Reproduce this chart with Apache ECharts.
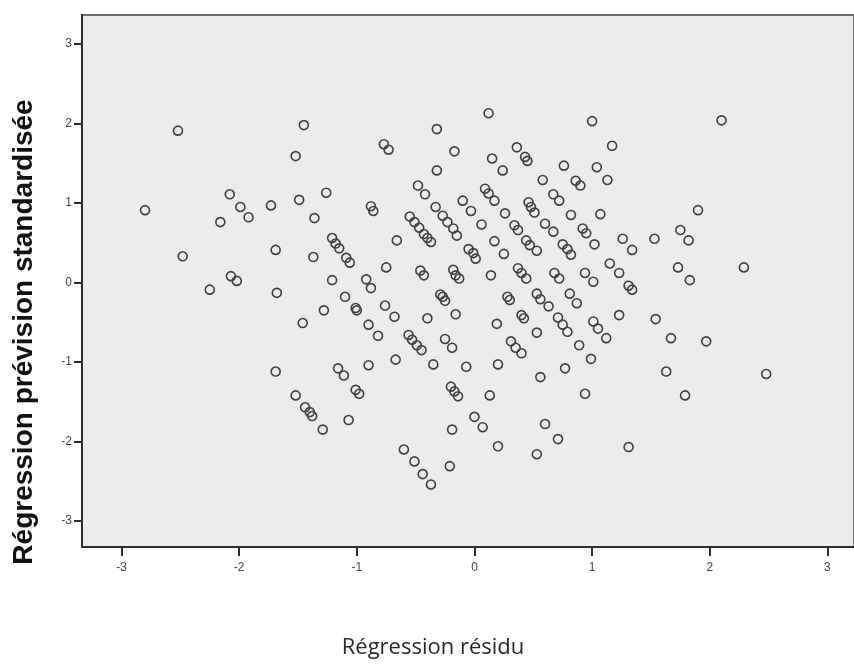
<!DOCTYPE html>
<html>
<head>
<meta charset="utf-8">
<script src="https://cdn.jsdelivr.net/npm/echarts@6/dist/echarts.min.js"></script>
<style>html,body{margin:0;padding:0;background:#fff}#c{width:854px;height:664px}</style>
</head>
<body>
<div id="c"></div>
<script>
// Régression résidu (x)
var residu = [
 -2.52,-1.45,-1.52,-2.80,-2.08,-1.99,-1.92,-2.16,-1.73,-1.49,
 -1.26,-1.36,-2.48,-1.69,-1.37,-2.07,-2.02,-1.21,-2.25,-1.68,
 -1.28,-1.46,-1.69,-1.52,-1.44,-1.40,-1.38,-1.29,-1.16,0.12,
 1.00,-0.32,-0.77,-0.73,-0.17,0.36,0.43,0.45,0.15,0.24,
 -0.32,0.76,1.04,0.58,0.86,0.90,-0.48,-0.42,0.09,0.12,
 0.17,0.67,0.72,-0.10,-0.03,-0.88,-0.86,0.46,0.48,0.51,
 0.82,1.07,-0.33,-0.27,-0.23,-0.18,-0.15,0.26,-0.55,-0.51,
 -0.47,-0.43,-0.40,-0.37,0.06,0.34,0.37,0.60,0.67,0.92,
 0.95,1.02,0.44,0.47,0.53,0.75,0.79,0.82,0.17,0.25,
 -0.05,-0.01,0.01,-0.66,-1.21,-1.18,-1.15,-1.09,-1.06,-0.75,
 -0.46,-0.43,-0.18,-0.16,-0.13,0.14,0.37,0.40,0.44,0.68,
 0.72,0.94,1.01,-0.92,-0.88,-1.10,-1.01,-1.00,-0.76,-0.68,
 -0.29,-0.27,-0.25,-0.40,-0.16,0.28,0.30,0.53,0.56,0.63,
 0.71,0.75,0.79,0.81,0.87,0.40,0.42,0.19,0.53,1.01,
 1.05,-0.90,-0.82,-0.56,-0.53,-0.49,-0.45,-0.25,-0.19,0.31,
 0.35,0.40,0.89,0.99,-1.11,-0.90,-0.67,-0.35,-0.07,0.20,
 0.56,0.77,-1.01,-0.98,-0.20,-0.17,-0.14,0.13,0.94,-1.07,
 0.00,0.07,-0.19,0.60,0.71,0.20,0.53,-0.60,-0.51,-0.44,
 -0.37,-0.21,2.10,1.17,1.13,1.90,1.26,1.34,1.53,1.75,
 1.82,1.15,1.23,1.73,2.29,1.31,1.34,1.83,1.23,1.54,
 1.12,1.67,1.97,1.63,2.48,1.79,1.31
];
// Régression prévision standardisée (y)
var prevision = [
 1.91,1.98,1.59,0.91,1.11,0.95,0.82,0.76,0.97,1.04,
 1.13,0.81,0.33,0.41,0.32,0.08,0.02,0.03,-0.09,-0.13,
 -0.35,-0.51,-1.12,-1.42,-1.57,-1.63,-1.68,-1.85,-1.08,2.13,
 2.03,1.93,1.74,1.67,1.65,1.70,1.58,1.53,1.56,1.41,
 1.41,1.47,1.45,1.29,1.28,1.22,1.22,1.11,1.18,1.12,
 1.03,1.11,1.03,1.03,0.90,0.96,0.90,1.01,0.95,0.88,
 0.85,0.86,0.95,0.84,0.76,0.68,0.59,0.87,0.83,0.76,
 0.69,0.61,0.56,0.51,0.73,0.72,0.66,0.74,0.64,0.68,
 0.62,0.48,0.53,0.47,0.40,0.48,0.42,0.35,0.52,0.36,
 0.42,0.37,0.30,0.53,0.56,0.49,0.43,0.31,0.25,0.19,
 0.15,0.09,0.16,0.09,0.05,0.09,0.18,0.12,0.05,0.12,
 0.05,0.12,0.01,0.04,-0.07,-0.18,-0.32,-0.35,-0.29,-0.43,
 -0.15,-0.18,-0.23,-0.45,-0.40,-0.18,-0.22,-0.14,-0.21,-0.30,
 -0.44,-0.53,-0.62,-0.14,-0.26,-0.41,-0.45,-0.52,-0.63,-0.49,
 -0.58,-0.53,-0.67,-0.66,-0.72,-0.79,-0.85,-0.71,-0.82,-0.74,
 -0.82,-0.89,-0.79,-0.96,-1.17,-1.04,-0.97,-1.03,-1.06,-1.03,
 -1.19,-1.08,-1.35,-1.40,-1.31,-1.37,-1.43,-1.42,-1.40,-1.73,
 -1.69,-1.82,-1.85,-1.78,-1.97,-2.06,-2.16,-2.10,-2.25,-2.41,
 -2.54,-2.31,2.04,1.72,1.29,0.91,0.55,0.41,0.55,0.66,
 0.53,0.24,0.12,0.19,0.19,-0.04,-0.09,0.03,-0.41,-0.46,
 -0.70,-0.70,-0.74,-1.12,-1.15,-1.42,-2.07
];
var xTicks = [-3,-2,-1,0,1,2,3];
var yTicks = [-3,-2,-1,0,1,2,3];
var xTitle = 'Régression résidu';
var yTitle = 'Régression prévision standardisée';

var points = residu.map(function(v,i){ return [v, prevision[i]]; });

var chart = echarts.init(document.getElementById('c'), null, {renderer:'canvas'});
chart.setOption({
  animation: false,
  backgroundColor: '#ffffff',
  grid: {
    left: 82, top: 15, right: 0, bottom: 117,
    show: true,
    backgroundColor: '#ececec',
    borderColor: '#6f6f6f',
    borderWidth: 2,
    containLabel: false,
    outerBoundsMode: 'none'
  },
  xAxis: {
    type: 'value',
    min: -3.336, max: 3.226,
    splitLine: {show: false},
    axisLine: {show: true, onZero: false, lineStyle: {color: '#2e2e2e', width: 2}},
    axisTick: {show: true, customValues: xTicks, length: 9, lineStyle: {color: '#2e2e2e', width: 2}},
    axisLabel: {show: true, customValues: xTicks, margin: 15, color: '#444444',
      fontFamily: 'Liberation Sans', fontSize: 12}
  },
  yAxis: {
    type: 'value',
    min: -3.327, max: 3.365,
    splitLine: {show: false},
    axisLine: {show: true, onZero: false, lineStyle: {color: '#2e2e2e', width: 2}},
    axisTick: {show: true, customValues: yTicks, length: 8, lineStyle: {color: '#2e2e2e', width: 2}},
    axisLabel: {show: true, customValues: yTicks, margin: 10, color: '#444444',
      fontFamily: 'Liberation Sans', fontSize: 12}
  },
  graphic: [
    {type: 'text', x: 433, y: 648, style: {text: xTitle, font: '22px "Open Sans"', fill: '#2a2a2a',
      textAlign: 'center', textVerticalAlign: 'middle'}},
    {type: 'text', x: 24, y: 332, rotation: Math.PI/2, style: {text: yTitle, font: 'bold 28px "Liberation Sans"', fill: '#111111',
      textAlign: 'center', textVerticalAlign: 'middle'}}
  ],
  series: [{
    type: 'scatter',
    data: points,
    symbol: 'circle',
    symbolSize: 9,
    itemStyle: {color: 'rgba(0,0,0,0)', borderColor: '#404040', borderWidth: 1.6, opacity: 1}
  }]
});
</script>
</body>
</html>
